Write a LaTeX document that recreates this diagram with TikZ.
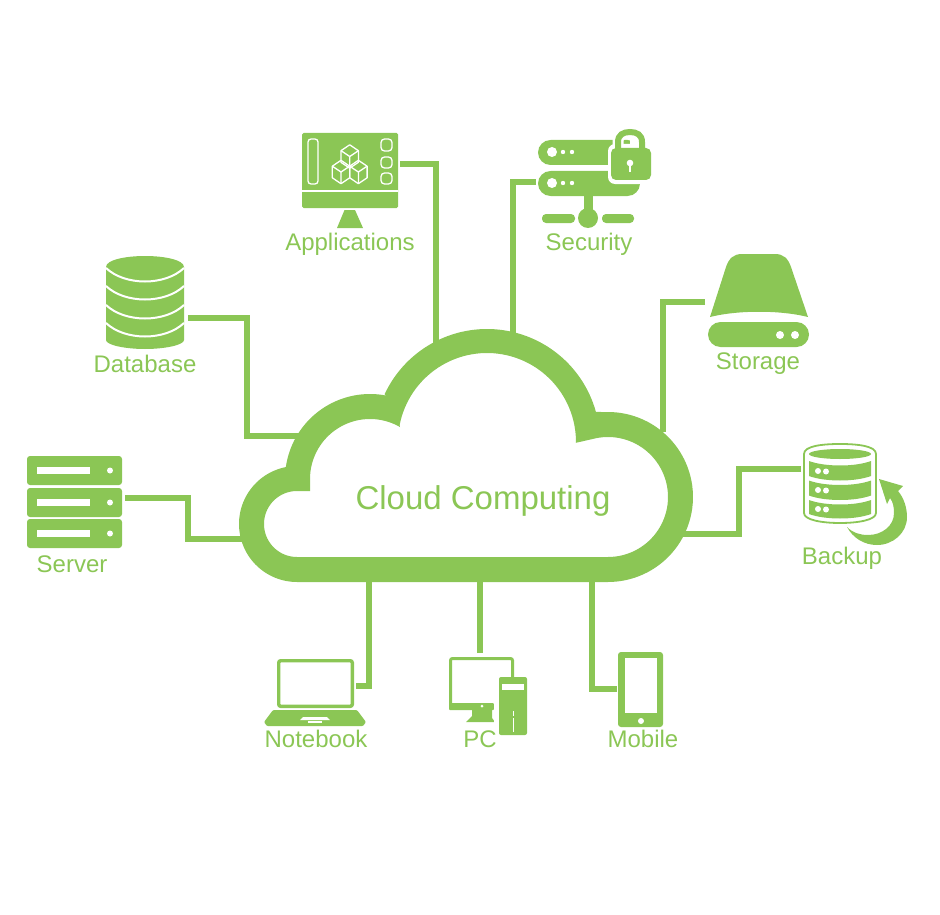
\documentclass[tikz,border=0pt]{standalone}
\usepackage{fontspec}
\setmainfont{Liberation Sans}
\definecolor{cgreen}{HTML}{8BC655}
\tikzset{
  link/.style={draw=cgreen,line width=5.6pt},
  icon/.style={fill=cgreen},
  hole/.style={fill=white},
  wline/.style={draw=white,line width=1.3pt,line join=round},
  lab/.style={text=cgreen,anchor=base,inner sep=0pt,font=\fontsize{24}{28}\selectfont},
}
\newcommand{\isocube}[2]{%
  \draw[wline] (#1,#2-11.7) -- (#1+8.7,#2-5.8) -- (#1+8.7,#2+5.8) -- (#1,#2+11.7) -- (#1-8.7,#2+5.8) -- (#1-8.7,#2-5.8) -- cycle;
  \draw[wline] (#1-8.7,#2-5.8) -- (#1,#2) -- (#1+8.7,#2-5.8) (#1,#2) -- (#1,#2+11.7);}
\newcommand{\bkband}[2]{%
  \fill[icon] (809,#1) .. controls (825,#1+6) and (855,#1+6) .. (871,#1) -- (871,#2) .. controls (855,#2+6) and (825,#2+6) .. (809,#2) -- cycle;}
\newcommand{\dbarc}[1]{%
  \draw[white,line width=2pt] (106,#1) .. controls (125,#1+18) and (165,#1+18) .. (184,#1);}
\begin{document}
\begin{tikzpicture}[x=1pt,y=-1pt]
\useasboundingbox (0,0) rectangle (940,915);
% connector ends
\coordinate (app-port) at (400,164);   \coordinate (cloud-app) at (436,345);
\coordinate (sec-port) at (536,182);   \coordinate (cloud-sec) at (513,340);
\coordinate (sto-port) at (705,302);   \coordinate (cloud-sto) at (663,432);
\coordinate (bak-port) at (801,469);   \coordinate (bak-bend) at (739,534); \coordinate (cloud-bak) at (680,534);
\coordinate (dat-port) at (188,318);   \coordinate (dat-bend) at (247,436); \coordinate (cloud-dat) at (305,436);
\coordinate (ser-port) at (125,498);   \coordinate (ser-bend) at (188,539); \coordinate (cloud-ser) at (250,539);
\coordinate (not-port) at (356,686);   \coordinate (cloud-not) at (369,575);
\coordinate (pc-port) at (480,653);    \coordinate (cloud-pc) at (480,575);
\coordinate (mob-port) at (617,689);   \coordinate (cloud-mob) at (592,575);
% connectors
\draw[link] (app-port) -| (cloud-app);
\draw[link] (sec-port) -| (cloud-sec);
\draw[link] (sto-port) -| (cloud-sto);
\draw[link] (bak-port) -| (bak-bend) -- (cloud-bak);
\draw[link] (dat-port) -| (dat-bend) -- (cloud-dat);
\draw[link] (ser-port) -| (ser-bend) -- (cloud-ser);
\draw[link] (not-port) -| (cloud-not);
\draw[link] (pc-port) -- (cloud-pc);
\draw[link] (mob-port) -| (cloud-mob);
% cloud
\fill[icon,even odd rule]
  (297,582) -- (608,582)
  -- plot[domain=90:-90,samples=60] ({608+85*cos(\x)},{497+85*sin(\x)})
  -- plot[domain=-15.4:-155,samples=60] ({487+113*cos(\x)},{442+113*sin(\x)})
  -- plot[domain=-79:-172,samples=40] ({370+85*cos(\x)},{479+85*sin(\x)})
  -- plot[domain=-100:-270,samples=60] ({297+58*cos(\x)},{524+58*sin(\x)})
  -- cycle
  (297,557) -- (608,557)
  -- plot[domain=90:-105,samples=60] ({608+60*cos(\x)},{497+60*sin(\x)})
  -- plot[domain=0.5:-169,samples=60] ({487+89*cos(\x)},{442+89*sin(\x)})
  -- plot[domain=-60:-180,samples=40] ({370+60*cos(\x)},{479+60*sin(\x)})
  -- (310,491) -- (297,491)
  -- plot[domain=-90:-270,samples=60] ({297+33*cos(\x)},{524+33*sin(\x)})
  -- cycle;
\node[lab,font=\fontsize{33}{38}\selectfont] (cloudlabel) at (483,509) {Cloud Computing};
% Applications
\fill[icon,rounded corners=1.5pt] (302,133) rectangle (398,208);
\draw[white,line width=1.2pt] (302,191) -- (398,191);
\fill[icon] (344.5,210) -- (355,210) -- (363,228) -- (337,228) -- cycle;
\draw[wline,rounded corners=3pt] (308,139) rectangle (318,184);
\draw[wline,rounded corners=3.5pt] (381,139) rectangle (392,151);
\draw[wline,rounded corners=3.5pt] (381,157) rectangle (392,168);
\draw[wline,rounded corners=3.5pt] (381,173) rectangle (392,184);
\isocube{349.7}{156.5}
\isocube{341}{172}
\isocube{358.4}{172}
% Security
\fill[icon,rounded corners=12.5pt] (538,140) rectangle (640,165);
\fill[icon,rounded corners=12.5pt] (538,171) rectangle (640,196);
\fill[hole,rounded corners=7pt] (608,144) rectangle (655,184);
\draw[white,line width=11pt] (618,148) -- (618,142) .. controls (618,135) and (623,132) .. (630,132) .. controls (637,132) and (642,135) .. (642,142) -- (642,148);
\fill[hole] (630,124) rectangle (660,144);
\fill[hole] (643,140) rectangle (660,170);
\fill[hole] (640,184) rectangle (660,200);
\fill[icon,rounded corners=5pt] (611,148) rectangle (651,180);
\draw[cgreen,line width=6pt] (618,150) -- (618,142) .. controls (618,135) and (623,132) .. (630,132) .. controls (637,132) and (642,135) .. (642,142) -- (642,150);
\fill[hole] (630,163) circle[radius=3.3pt];
\fill[hole] (628.8,163) rectangle (631.2,172);
\foreach \yy in {152,183} {
  \fill[hole] (552,\yy) circle[radius=5pt];
  \fill[hole] (563,\yy) circle[radius=2.2pt];
  \fill[hole] (572,\yy) circle[radius=2.2pt];
}
\fill[icon] (584,196) rectangle (593,212);
\fill[icon,rounded corners=4pt] (542,214) rectangle (575,223);
\fill[icon,rounded corners=4pt] (602,214) rectangle (634,223);
\fill[icon] (588,218) circle[radius=10pt];
% Storage
\fill[icon] (710,317) -- (726,267) .. controls (729,258) and (734,254) .. (742,254) -- (775,254) .. controls (783,254) and (788,258) .. (791,267) -- (808,317) .. controls (780,310) and (738,310) .. (710,317) -- cycle;
\fill[icon,rounded corners=12.5pt] (708,322) rectangle (809,347);
\fill[hole] (780,335) circle[radius=4pt];
\fill[hole] (795,335) circle[radius=4pt];
% Backup
\draw[cgreen,line width=1.8pt] (804,454) .. controls (804,446) and (822,444) .. (840,444) .. controls (858,444) and (876,446) .. (876,454) -- (876,513) .. controls (876,520) and (858,523) .. (840,523) .. controls (822,523) and (804,520) .. (804,513) -- cycle;
\fill[icon] (840,454) ellipse[x radius=31pt,y radius=5pt];
\bkband{461}{476}
\bkband{480.5}{495.5}
\bkband{500}{514}
\foreach \yy in {471,490,509} {
  \fill[hole] (818,\yy) circle[radius=3pt];
  \fill[hole] (826,\yy+.5) circle[radius=3pt];
}
\fill[icon] (879,479) -- (903,486) -- (898,491) .. controls (904,498) and (907,508) .. (907,517) .. controls (907,533) and (893,545) .. (877,545) .. controls (864,545) and (853,538) .. (847,527) .. controls (853,533) and (860,535) .. (868,535) .. controls (882,535) and (894,526) .. (894,513) .. controls (894,507) and (893,502) .. (890,498) -- (887,504) -- cycle;
% Database
\fill[icon] (106,267) .. controls (106,260) and (125,256) .. (145,256) .. controls (165,256) and (184,260) .. (184,267) -- (184,340) .. controls (184,345) and (165,349) .. (145,349) .. controls (125,349) and (106,345) .. (106,340) -- cycle;
\dbarc{268}
\dbarc{286}
\dbarc{305}
\dbarc{323}
% Server
\foreach \ya/\yb/\yc in {456/485/470.5,488/517/502.5,519/548/533.5} {
  \fill[icon,rounded corners=3pt] (27,\ya) rectangle (122,\yb);
  \fill[hole] (37,\yc-3.5) rectangle (90,\yc+3.5);
  \fill[hole] (110,\yc) circle[radius=3pt];
}
% Notebook
\draw[cgreen,line width=3.4pt,rounded corners=2pt] (278.7,660.7) rectangle (352.3,706.3);
\fill[icon,rounded corners=1pt] (273,710) -- (357,710) -- (366,722) -- (363,726) -- (267,726) -- (264,722) -- cycle;
\fill[hole] (303,717) -- (327,717) -- (330,720) -- (300,720) -- cycle;
\fill[hole] (308,721) rectangle (322,722.5);
% PC
\draw[cgreen,line width=3pt,rounded corners=2pt] (450.5,705) -- (450.5,658.5) -- (512.5,658.5) -- (512.5,680);
\fill[icon,rounded corners=1pt] (449,703) rectangle (494,710);
\fill[icon] (472,710) -- (492,710) -- (492,718) -- (495,722) -- (466,722) -- (472,716) -- cycle;
\fill[hole] (482,706) circle[radius=1.5pt];
\fill[hole] (494,675) rectangle (499,735);
\fill[icon,rounded corners=2pt] (499,677) rectangle (527,735);
\fill[hole] (502,684) rectangle (524,690);
\draw[white,line width=1pt] (513,711) -- (513,716) (513,718) -- (513,732);
% Mobile
\fill[icon,rounded corners=3pt] (618,652) rectangle (663,727);
\fill[hole] (625,658) rectangle (657,713);
\fill[hole] (641,721) circle[radius=3pt];
% Labels
\node[lab] (applications) at (350,250) {Applications};
\node[lab] (security) at (589,250) {Security};
\node[lab] (database) at (145,372) {Database};
\node[lab] (storage) at (758,369) {Storage};
\node[lab] (server) at (72,572) {Server};
\node[lab] (backup) at (842,564) {Backup};
\node[lab] (notebook) at (316,747) {Notebook};
\node[lab] (pc) at (480,747) {PC};
\node[lab] (mobile) at (643,747) {Mobile};
\end{tikzpicture}
\end{document}
